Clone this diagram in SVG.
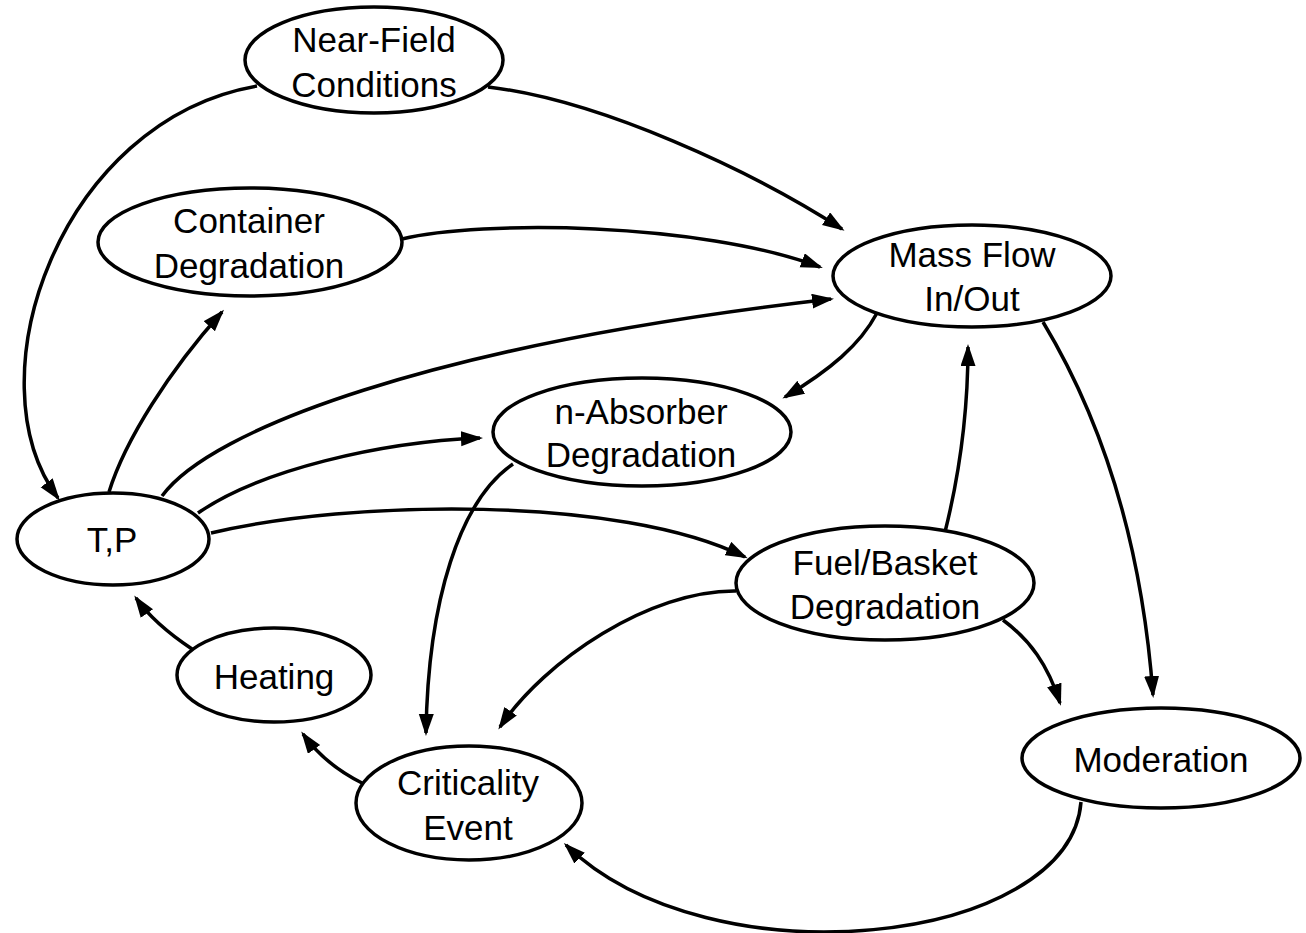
<svg xmlns="http://www.w3.org/2000/svg" width="1306" height="933" viewBox="0 0 1306 933">
<style>
.node ellipse{fill:#fff;stroke:#000;stroke-width:3.5}
.node text{font-family:"Liberation Sans",Arial,sans-serif;font-size:35px;fill:#000;text-anchor:middle}
.edges path{fill:none;stroke:#000;stroke-width:3.5;marker-end:url(#arr)}
</style>
<defs>
<marker id="arr" markerUnits="userSpaceOnUse" markerWidth="23" markerHeight="16" refX="19" refY="7.5" orient="auto">
<path d="M0,0 L22,7.5 L0,15 z" fill="#000"/>
</marker>
</defs>
<rect width="1306" height="933" fill="#fff"/>
<g class="edges" id="connectors">
<path d="M257,86 C60,120 -30,380 58,498"/>
<path d="M488,87 C600,100 752,171 842,229"/>
<path d="M402,239 C480,220 700,222 820,267"/>
<path d="M109,492 C125,440 170,370 222,312"/>
<path d="M162,496 C210,430 430,345 831,299"/>
<path d="M198,513 C260,470 380,442 480,438"/>
<path d="M211,533 C350,500 620,495 745,557"/>
<path d="M877,313 C860,345 830,370 785,397"/>
<path d="M513,464 C460,500 428,600 426,733"/>
<path d="M945,532 C958,480 968,420 968,347"/>
<path d="M1043,322 C1090,400 1140,520 1153,695"/>
<path d="M1003,620 C1030,640 1048,665 1060,703"/>
<path d="M736,591 C650,590 545,660 500,727"/>
<path d="M1081,802 C1070,945 710,985 566,845"/>
<path d="M362,783 C340,772 318,755 303,734"/>
<path d="M192,649 C168,633 150,618 136,598"/>
</g>
<g class="node" id="near-field"><ellipse cx="374" cy="60" rx="129" ry="53"/><text x="374" y="52">Near-Field</text><text x="374" y="97">Conditions</text></g>
<g class="node" id="container"><ellipse cx="250" cy="242" rx="152" ry="54"/><text x="249" y="233">Container</text><text x="249" y="278">Degradation</text></g>
<g class="node" id="massflow"><ellipse cx="972" cy="276" rx="139" ry="51"/><text x="972" y="267">Mass Flow</text><text x="972" y="311">In/Out</text></g>
<g class="node" id="nabsorber"><ellipse cx="642" cy="432" rx="149" ry="54"/><text x="641" y="424">n-Absorber</text><text x="641" y="467">Degradation</text></g>
<g class="node" id="tp"><ellipse cx="113" cy="539" rx="96" ry="46"/><text x="112" y="552">T,P</text></g>
<g class="node" id="fuel"><ellipse cx="885" cy="583" rx="149" ry="57"/><text x="885" y="575">Fuel/Basket</text><text x="885" y="619">Degradation</text></g>
<g class="node" id="heating"><ellipse cx="274" cy="675" rx="97" ry="47"/><text x="274" y="689">Heating</text></g>
<g class="node" id="criticality"><ellipse cx="469" cy="803" rx="113" ry="57"/><text x="468" y="795">Criticality</text><text x="468" y="840">Event</text></g>
<g class="node" id="moderation"><ellipse cx="1161" cy="758" rx="139" ry="50"/><text x="1161" y="772">Moderation</text></g>
</svg>
